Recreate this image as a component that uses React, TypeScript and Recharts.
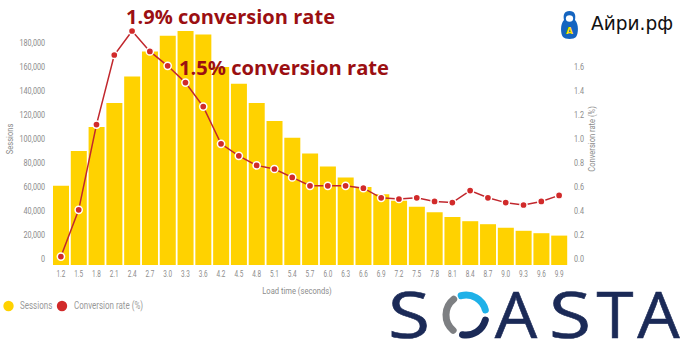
import React from "react"
import { ComposedChart, Bar, Line, XAxis, YAxis, Label } from "recharts"

const loadTimes = [
  "1.2", "1.5", "1.8", "2.1", "2.4", "2.7", "3.0", "3.3", "3.6", "4.2",
  "4.5", "4.8", "5.1", "5.4", "5.7", "6.0", "6.3", "6.6", "6.9", "7.2",
  "7.5", "7.8", "8.1", "8.4", "8.7", "9.0", "9.3", "9.6", "9.9",
]

const sessions = [
  66000, 95000, 115000, 135000, 157000, 178000, 191000, 195000, 192000, 165000,
  151000, 135000, 120000, 106000, 93000, 82000, 73000, 65000, 59000, 53500,
  48500, 44000, 40000, 36500, 34000, 31000, 28500, 26500, 24500,
]

const conversionRate = [
  0.07, 0.46, 1.17, 1.75, 1.95, 1.78, 1.66, 1.52, 1.32, 1.01,
  0.91, 0.83, 0.8, 0.73, 0.66, 0.66, 0.66, 0.64, 0.56, 0.55,
  0.56, 0.53, 0.52, 0.62, 0.56, 0.52, 0.5, 0.53, 0.58,
]

const sessionTicks = [0, 20000, 40000, 60000, 80000, 100000, 120000, 140000, 160000, 180000]
const rateTicks = [0, 0.2, 0.4, 0.6, 0.8, 1.0, 1.2, 1.4, 1.6]

const seriesNames = { sessions: "Sessions", rate: "Conversion rate (%)" }

const data = loadTimes.map((t, i) => ({ time: t, sessions: sessions[i], rate: conversionRate[i] }))

const YELLOW = "#ffd200"
const RED = "#d12a2a"
const LINE = "#c1272d"
const GREY = "#8c8c8c"
const FONT = "Roboto, 'Noto Sans', sans-serif"

// no condensed font installed, so squeeze a normal one sideways
function Narrow({ x, y, anchor = "start", size = 9, fill = GREY, rotate = 0, squeeze = 0.8, children }: any) {
  return (
    <g transform={`translate(${x} ${y}) rotate(${rotate}) scale(${squeeze} 1)`}>
      <text x={0} y={0} textAnchor={anchor} dominantBaseline="central" fontSize={size} fill={fill} fontFamily={FONT}>
        {children}
      </text>
    </g>
  )
}

const LeftTick = ({ x, y, payload }: any) => (
  <Narrow x={x} y={y - 6} anchor="end">{payload.value.toLocaleString("en-US")}</Narrow>
)

const RightTick = ({ x, y, payload }: any) => (
  <Narrow x={x} y={y - 6}>{Number(payload.value).toFixed(1)}</Narrow>
)

const BottomTick = ({ x, y, payload }: any) => (
  <Narrow x={x} y={y + 3} anchor="middle" size={8.5} squeeze={0.75}>{payload.value}</Narrow>
)

export default function App() {
  return (
    <div style={{ position: "absolute", left: 0, top: 0, width: 693, height: 360, background: "#fff" }}>
      <ComposedChart
        width={693}
        height={360}
        data={data}
        margin={{ top: 25, right: 95, bottom: 65, left: 0 }}
        barCategoryGap={1}
      >
        <XAxis
          dataKey="time"
          height={30}
          tickLine={false}
          axisLine={false}
          tickSize={6}
          tickMargin={0}
          interval={0}
          tick={<BottomTick />}
        >
          <Label
            content={({ viewBox }: any) => (
              <Narrow x={297} y={viewBox.y + 26} anchor="middle" size={9.5}>Load time (seconds)</Narrow>
            )}
          />
        </XAxis>
        <YAxis
          yAxisId="left"
          width={52}
          domain={[0, 200000]}
          ticks={sessionTicks}
          tickLine={false}
          axisLine={false}
          tickSize={6}
          tickMargin={1}
          tick={<LeftTick />}
        >
          <Label
            content={({ viewBox }: any) => (
              <Narrow x={10} y={viewBox.y + viewBox.height / 2 - 6} anchor="middle" size={9.5} rotate={-90}>Sessions</Narrow>
            )}
          />
        </YAxis>
        <YAxis
          yAxisId="right"
          orientation="right"
          width={30}
          domain={[0, 2]}
          ticks={rateTicks}
          tickLine={false}
          axisLine={false}
          tickSize={6}
          tickMargin={0}
          tick={<RightTick />}
        >
          <Label
            content={({ viewBox }: any) => (
              <Narrow x={viewBox.x + viewBox.width - 6} y={viewBox.y + viewBox.height / 2 - 6} anchor="middle" size={9.5} rotate={-90}>
                Conversion rate (%)
              </Narrow>
            )}
          />
        </YAxis>
        <Bar yAxisId="left" dataKey="sessions" name={seriesNames.sessions} fill={YELLOW} isAnimationActive={false} />
        <Line
          yAxisId="right"
          type="linear"
          dataKey="rate"
          name={seriesNames.rate}
          stroke={LINE}
          strokeWidth={1.5}
          dot={{ r: 3.6, fill: RED, stroke: "#fff", strokeWidth: 1.5 }}
          isAnimationActive={false}
        />
      </ComposedChart>

      <svg width={693} height={360} style={{ position: "absolute", left: 0, top: 0, pointerEvents: "none" }}>
        {/* annotations */}
        <text x={126} y={24} fontSize={19} fontWeight={700} fill="#9b0f12" fontFamily="'Open Sans', 'Noto Sans', sans-serif" textLength={209} lengthAdjust="spacingAndGlyphs">
          1.9% conversion rate
        </text>
        <text x={179} y={75} fontSize={19} fontWeight={700} fill="#9b0f12" fontFamily="'Open Sans', 'Noto Sans', sans-serif" textLength={210} lengthAdjust="spacingAndGlyphs">
          1.5% conversion rate
        </text>

        {/* legend */}
        <circle cx={8.5} cy={306} r={5.2} fill={YELLOW} />
        <Narrow x={20} y={306} size={10} fill="#999">{seriesNames.sessions}</Narrow>
        <circle cx={62} cy={306} r={5.2} fill={RED} />
        <Narrow x={74} y={306} size={10} fill="#999">{seriesNames.rate}</Narrow>

        {/* Айри.рф badge */}
        <path
          d="M569.5 11 C575 11 576 15 575 20 C579 24 578.5 34 576 37 C574 39.5 565 39.5 563 37 C560.5 34 560 24 564 20 C563 15 564 11 569.5 11 Z"
          fill="#1565c0"
        />
        <ellipse cx={569.5} cy={18.5} rx={3.6} ry={3.3} fill="#fff" />
        <text x={569.5} y={34} textAnchor="middle" fontSize={9} fontWeight={700} fill="#ffe100" fontFamily="'DejaVu Sans', sans-serif">A</text>
        <text x={591} y={30} fontSize={20} fill="#111" fontFamily="'DejaVu Sans', 'Noto Sans', sans-serif" textLength={82} lengthAdjust="spacingAndGlyphs">
          Айри.рф
        </text>

        {/* SOASTA logo */}
        <g fill="#1b2a57" stroke="#1b2a57" strokeWidth={0.6} fontFamily="'Open Sans', 'Noto Sans', sans-serif" fontSize={64} textAnchor="middle">
          <text transform="translate(409 338) scale(1.2 1)">S</text>
          <text transform="translate(516 338) scale(1.05 1)">A</text>
          <text transform="translate(570 338) scale(1.2 1)">S</text>
          <text transform="translate(615 338) scale(1.05 1)">T</text>
          <text transform="translate(658.5 338) scale(1.05 1)">A</text>
        </g>
        <g fill="none" strokeWidth={7} strokeLinecap="round">
          <path d={arc(466, 315, 20, 130, 232)} stroke="#7d7f82" />
          <path d={arc(466, 315, 20, 256, 345)} stroke="#1fb1e8" />
          <path d={arc(466, 315, 20, 15, 100)} stroke="#1b2a57" />
        </g>
      </svg>
    </div>
  )
}

function arc(cx: number, cy: number, r: number, a0: number, a1: number) {
  const p = (a: number) => [cx + r * Math.cos((a * Math.PI) / 180), cy + r * Math.sin((a * Math.PI) / 180)]
  const [x0, y0] = p(a0)
  const [x1, y1] = p(a1)
  const large = a1 - a0 > 180 ? 1 : 0
  return `M ${x0} ${y0} A ${r} ${r} 0 ${large} 1 ${x1} ${y1}`
}
